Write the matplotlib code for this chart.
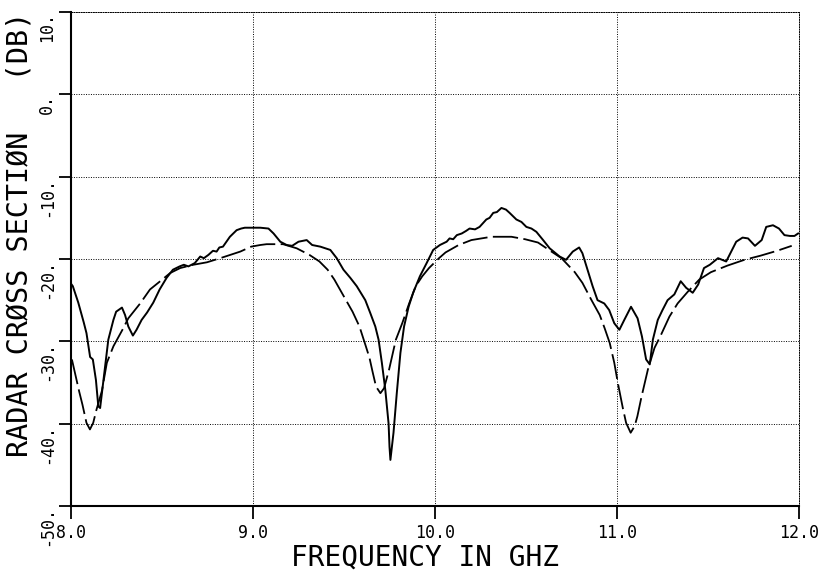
import matplotlib
matplotlib.use("Agg")
import matplotlib.pyplot as plt

# measured RCS (solid)
freq_meas = [8.00, 8.01, 8.04, 8.07, 8.085, 8.105, 8.12, 8.137, 8.15, 8.16,
             8.177, 8.205, 8.233, 8.248, 8.28, 8.297, 8.315, 8.34, 8.36, 8.388,
             8.418, 8.452, 8.487, 8.525, 8.56, 8.597, 8.62, 8.645, 8.68, 8.71,
             8.73, 8.755, 8.78, 8.80, 8.815, 8.835, 8.873, 8.91, 8.935, 8.955,
             8.985, 9.04, 9.085, 9.113, 9.15, 9.185, 9.215, 9.25, 9.295, 9.325,
             9.37, 9.425, 9.46, 9.497, 9.535, 9.57, 9.617, 9.645, 9.672, 9.69,
             9.708, 9.727, 9.745, 9.750, 9.755, 9.772, 9.79, 9.81, 9.83, 9.855,
             9.88, 9.917, 9.954, 9.99, 10.027, 10.064, 10.08, 10.10, 10.12, 10.147,
             10.17, 10.19, 10.22, 10.245, 10.282, 10.30, 10.32, 10.34, 10.365, 10.39,
             10.41, 10.447, 10.475, 10.502, 10.53, 10.557, 10.594, 10.63, 10.685, 10.72,
             10.757, 10.792, 10.81, 10.838, 10.866, 10.893, 10.93, 10.957, 10.985, 11.013,
             11.04, 11.077, 11.113, 11.137, 11.16, 11.18, 11.197, 11.224, 11.25, 11.278,
             11.315, 11.35, 11.38, 11.416, 11.446, 11.478, 11.51, 11.555, 11.6, 11.655,
             11.69, 11.72, 11.758, 11.795, 11.82, 11.857, 11.89, 11.92, 11.95, 11.975,
             11.995]
rcs_meas = [-23.0, -23.3, -25.3, -27.7, -29.0, -31.9, -32.2, -34.7, -37.9, -38.1,
            -35.0, -29.8, -27.4, -26.4, -25.9, -26.8, -28.2, -29.3, -28.6, -27.4,
            -26.5, -25.3, -23.7, -22.3, -21.3, -20.9, -20.7, -20.9, -20.5, -19.7,
            -19.9, -19.5, -19.0, -19.1, -18.6, -18.5, -17.3, -16.5, -16.3, -16.2,
            -16.2, -16.2, -16.3, -16.9, -17.9, -18.3, -18.4, -17.9, -17.7, -18.3,
            -18.5, -18.9, -19.9, -21.3, -22.3, -23.3, -25.0, -26.6, -28.2, -29.8,
            -32.6, -35.9, -40.0, -42.8, -44.4, -41.1, -36.3, -31.4, -28.2, -25.8,
            -24.1, -22.1, -20.5, -18.9, -18.3, -17.9, -17.5, -17.6, -17.1, -16.9,
            -16.6, -16.3, -16.4, -16.1, -15.2, -15.0, -14.4, -14.3, -13.8, -14.0,
            -14.4, -15.2, -15.5, -16.1, -16.3, -16.7, -17.7, -18.7, -19.7, -20.1,
            -19.1, -18.6, -19.3, -21.3, -23.3, -25.0, -25.4, -26.2, -27.8, -28.6,
            -27.4, -25.8, -27.2, -29.4, -32.2, -32.8, -29.8, -27.4, -26.2, -25.0,
            -24.3, -22.7, -23.5, -24.1, -23.1, -21.1, -20.7, -19.9, -20.3, -17.9,
            -17.4, -17.5, -18.4, -17.7, -16.1, -15.9, -16.3, -17.1, -17.2, -17.2,
            -16.9]

# theory (dashed)
freq_calc = [8.005, 8.045, 8.063, 8.085, 8.104, 8.122, 8.14, 8.17, 8.197, 8.233,
             8.285, 8.315, 8.38, 8.434, 8.49, 8.545, 8.60, 8.672, 8.747, 8.82,
             8.93, 8.99, 9.04, 9.075, 9.165, 9.24, 9.31, 9.365, 9.41, 9.447,
             9.493, 9.547, 9.585, 9.62, 9.64, 9.657, 9.676, 9.70, 9.72, 9.748,
             9.785, 9.82, 9.858, 9.894, 9.93, 9.967, 10.022, 10.058, 10.13, 10.2,
             10.31, 10.42, 10.495, 10.566, 10.64, 10.695, 10.768, 10.81, 10.86, 10.905,
             10.932, 10.96, 10.985, 11.005, 11.032, 11.05, 11.075, 11.097, 11.112, 11.135,
             11.17, 11.206, 11.242, 11.288, 11.333, 11.388, 11.452, 11.516, 11.607, 11.7,
             11.788, 11.88, 11.96]
rcs_calc = [-32.2, -36.1, -37.7, -39.9, -40.7, -39.9, -38.3, -36.0, -32.6, -30.6,
            -28.5, -27.2, -25.4, -23.7, -22.7, -21.7, -21.1, -20.7, -20.4, -19.9,
            -19.1, -18.5, -18.3, -18.2, -18.2, -18.7, -19.5, -20.3, -21.3, -22.5,
            -24.3, -26.4, -28.2, -30.6, -32.0, -33.7, -35.5, -36.3, -35.7, -33.4,
            -29.8, -27.8, -25.4, -23.3, -22.1, -21.1, -19.9, -19.2, -18.3, -17.7,
            -17.3, -17.3, -17.6, -18.0, -19.1, -19.9, -21.6, -22.9, -25.0, -26.8,
            -28.4, -30.2, -32.6, -35.1, -38.1, -39.9, -41.1, -40.3, -39.1, -36.7,
            -33.4, -30.8, -29.2, -27.0, -25.4, -24.0, -22.5, -21.6, -20.8, -20.1,
            -19.6, -19.0, -18.4]

xticks = [8, 9, 10, 11, 12]
xticklabels = ["8.0", "9.0", "10.0", "11.0", "12.0"]
yticks = [-50, -40, -30, -20, -10, 0, 10]
yticklabels = ["-50.", "-40.", "-30.", "-20.", "-10.", "0.", "10."]

mono = "DejaVu Sans Mono"
dots = (0, (1, 1.5))

fig = plt.figure(figsize=(8.19, 5.73), dpi=100)
ax = fig.add_axes([71 / 819, 1 - 506 / 573, (799 - 71) / 819, (506 - 12) / 573])

ax.plot(freq_meas, rcs_meas, color="k", lw=1.4)
ax.plot(freq_calc, rcs_calc, color="k", lw=1.3, dashes=(14, 3))

ax.set_xlim(8, 12)
ax.set_ylim(-50, 10)
ax.set_xticks(xticks)
ax.set_xticklabels(xticklabels, fontsize=12, family=mono)
ax.set_yticks(yticks)
ax.set_yticklabels(yticklabels, fontsize=12, family=mono)
for lbl in ax.get_yticklabels():
    lbl.set_rotation(90)
    lbl.set_va("top")
    lbl.set_ha("right")

ax.tick_params(direction="out", length=9, width=1.3, color="k")
ax.tick_params(axis="x", pad=4)
ax.tick_params(axis="y", pad=2)
ax.grid(True, color="k", lw=0.7, linestyle=dots)
for side in ["left", "bottom"]:
    ax.spines[side].set_linewidth(1.5)
for side in ["top", "right"]:
    ax.spines[side].set_linewidth(0.7)
    ax.spines[side].set_linestyle(dots)

fig.text(20 / 819, 1 - 12 / 573, "RADAR CRØSS SECTIØN   (DB)", rotation=90,
         ha="center", va="top", fontsize=20.5, family=mono)
fig.text(425 / 819, 1 - 544 / 573, "FREQUENCY IN GHZ", ha="center", va="top",
         fontsize=20, family=mono)

fig.savefig("out.png", dpi=100)
